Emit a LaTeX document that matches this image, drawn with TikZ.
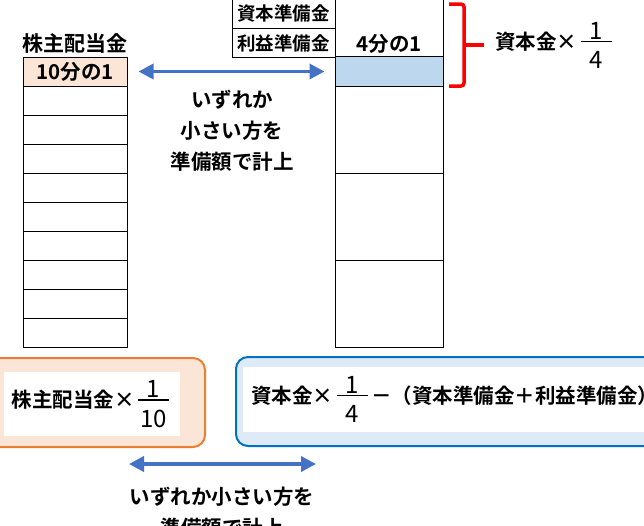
\documentclass[tikz,border=0pt]{standalone}
\usepackage{fontspec}
\setmainfont{Noto Sans CJK JP}[BoldFont={Noto Sans CJK JP Bold}]
\usetikzlibrary{arrows.meta}
\definecolor{peach}{HTML}{FBE5D6}
\definecolor{orangeline}{HTML}{ED7D31}
\definecolor{lightblue}{HTML}{BDD7EE}
\definecolor{paleblue}{HTML}{DEEBF7}
\definecolor{boxblue}{HTML}{0070C0}
\definecolor{arrowblue}{HTML}{4472C4}
\newcommand{\bunsu}[2]{\,\raisebox{10pt}{\vtop{\hbox to 31pt{\hfil\fontsize{24}{24}\selectfont\mdseries#1\hfil}\kern1.5pt\hrule height 1.5pt\kern9pt\hbox to 31pt{\hfil\fontsize{24}{24}\selectfont\mdseries#2\hfil}}}\,}
\tikzset{
  cell/.style={draw, line width=1pt, minimum width=104pt, minimum height=29pt, inner sep=0pt},
  txt/.style={font=\fontsize{20.5}{31}\selectfont\bfseries, inner sep=0pt},
  both/.style={arrowblue, line width=3.5pt, {Triangle[width=15pt,length=15pt]}-{Triangle[width=15pt,length=15pt]}},
}
\begin{document}
\begin{tikzpicture}[x=1pt,y=-1pt]
\clip (0,0) rectangle (644,525);
% left column
\node (title) at (75,43)[txt, font=\fontsize{21}{25}\selectfont\bfseries]{株主配当金};
\node (l0) at (75,71.5)[cell, fill=peach, txt]{10分の1};
\foreach \i in {1,...,9}
{
    \node (l\i) at (75,{71.5+29*\i})[cell]{};
}
% right column
\node (m0) at (389,26)[cell, minimum width=108pt, minimum height=62pt]{};
\node (m1) at (389,71.5)[cell, minimum width=108pt, minimum height=29.5pt, fill=lightblue]{};
\node (m2) at (389,129.9)[cell, minimum width=108pt, minimum height=86.8pt]{};
\node (m3) at (389,216.7)[cell, minimum width=108pt, minimum height=86.8pt]{};
\node (m4) at (389,303.5)[cell, minimum width=108pt, minimum height=87pt]{};
\node (quarter) at (389,44)[txt]{4分の1};
\node (shihon) at (283.5,13.5)[cell, minimum width=103pt, minimum height=30.5pt, txt, font=\fontsize{18.5}{20}\selectfont\bfseries]{資本準備金};
\node (rieki) at (283.5,43.1)[cell, minimum width=103pt, minimum height=29pt, txt, font=\fontsize{18.5}{20}\selectfont\bfseries]{利益準備金};
\draw[both, shorten <=11pt, shorten >=10pt] (l0) -- (m1);
\node (note) at (232,131)[txt, align=center]{いずれか\\小さい方を\\準備額で計上};
% bracket
\draw[red, line width=3.5pt, rounded corners=3pt] (449,4) -- (464,4) -- (464,86) -- (449,86);
\draw[red, line width=3.5pt] (464,45) -- (484,45);
\node (limit) at (495,45)[txt, anchor=west]{資本金×\bunsu{1}{4}};
% bottom boxes
\node (obox) at (92.5,402.5)[draw=orangeline, fill=peach, line width=2pt, rounded corners=12pt, minimum width=225pt, minimum height=89pt]{};
\node (oform) at (92,404)[fill=white, minimum width=176pt, minimum height=64pt, txt]{株主配当金×\bunsu{1}{10}};
\node (bbox) at (458,401.5)[draw=boxblue, fill=paleblue, line width=2pt, rounded corners=12pt, minimum width=444pt, minimum height=89pt]{};
\node (bwhite) at (461.5,399.5)[fill=white, minimum width=437pt, minimum height=65pt]{};
\node (bform) at (251,399)[txt, anchor=west]{資本金×\bunsu{1}{4}－（資本準備金＋利益準備金）};
\coordinate (bl) at (129,464);
\coordinate (br) at (316,464);
\draw[both] (bl) -- (br);
\node (note2) at (222,512)[txt, align=center]{いずれか小さい方を\\準備額で計上};
\end{tikzpicture}
\end{document}
